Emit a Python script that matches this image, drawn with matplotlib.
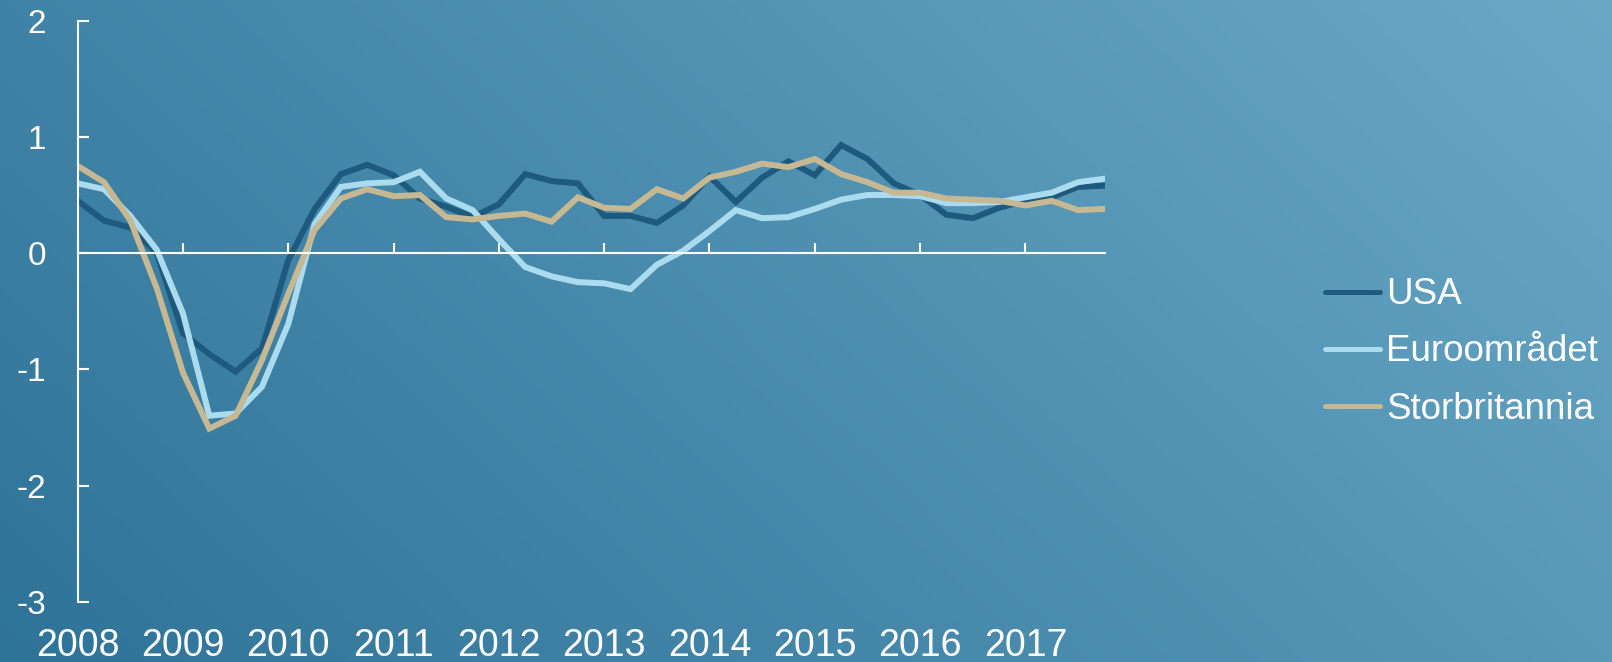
import numpy as np
import matplotlib
matplotlib.use("Agg")
import matplotlib.pyplot as plt

plt.rcParams['font.family'] = ['Liberation Sans', 'DejaVu Sans']
plt.rcParams['axes.unicode_minus'] = False

# kvartalsdata 2008K1 - 2017K4
quarters = np.arange(2008, 2018, 0.25)
usa = [0.45, 0.28, 0.22, 0.00, -0.69, -0.87, -1.02, -0.82, -0.06, 0.38,
       0.68, 0.76, 0.67, 0.47, 0.40, 0.31, 0.42, 0.68, 0.62, 0.60,
       0.32, 0.32, 0.26, 0.41, 0.66, 0.44, 0.65, 0.79, 0.67, 0.93,
       0.81, 0.60, 0.50, 0.33, 0.30, 0.39, 0.45, 0.48, 0.57, 0.58]
euro = [0.60, 0.55, 0.32, 0.03, -0.52, -1.40, -1.38, -1.15, -0.61, 0.25,
        0.57, 0.60, 0.61, 0.70, 0.47, 0.37, 0.12, -0.12, -0.20, -0.25,
        -0.26, -0.31, -0.10, 0.02, 0.19, 0.37, 0.30, 0.31, 0.38, 0.46,
        0.50, 0.50, 0.49, 0.43, 0.43, 0.44, 0.48, 0.52, 0.61, 0.64]
uk = [0.75, 0.61, 0.28, -0.30, -1.03, -1.51, -1.40, -0.92, -0.35, 0.20,
      0.47, 0.55, 0.49, 0.50, 0.31, 0.29, 0.32, 0.34, 0.27, 0.48,
      0.39, 0.38, 0.55, 0.47, 0.65, 0.70, 0.77, 0.74, 0.81, 0.68,
      0.61, 0.52, 0.52, 0.47, 0.46, 0.45, 0.41, 0.45, 0.37, 0.38]
years = list(range(2008, 2018))
series_names = ['USA', 'Euroområdet', 'Storbritannia']
series_colors = ['#1e5a7d', '#aadbef', '#c5b893']

fig = plt.figure(figsize=(16.12, 6.62), dpi=100)

# bakgrunn med gradient (mørk nede til venstre, lys oppe til høyre)
bg = fig.add_axes([0, 0, 1, 1], zorder=-10)
h, w = 662, 1612
xx, yy = np.meshgrid(np.linspace(0, 1, w), np.linspace(1, 0, h))
t = 0.7 * xx + 0.3 * yy
c0 = np.array([46, 115, 152]) / 255
c1 = np.array([106, 168, 198]) / 255
img = c0[None, None, :] + t[:, :, None] * (c1 - c0)[None, None, :]
bg.imshow(img, aspect='auto', extent=[0, 1, 0, 1])
bg.axis('off')

ax = fig.add_axes([77.7 / 1612, 1 - 601.7 / 662, (1105 - 77.7) / 1612, 581 / 662])
ax.set_facecolor('none')

for vals, name, col in zip([usa, euro, uk], series_names, series_colors):
    ax.plot(quarters, vals, color=col, lw=4.3, label=name, solid_joinstyle='miter')

ax.set_xlim(2008, 2017.756)
ax.set_ylim(-3, 2)
ax.set_yticks([-3, -2, -1, 0, 1, 2])
ax.set_xticks(years)

for s in ['top', 'right']:
    ax.spines[s].set_visible(False)
ax.spines['bottom'].set_position(('data', 0))
ax.spines['bottom'].set_color('white')
ax.spines['left'].set_color('white')
ax.spines['bottom'].set_linewidth(1.5)
ax.spines['left'].set_linewidth(1.5)
ax.tick_params(axis='x', direction='in', length=7.5, width=1.5, color='white', labelbottom=False)
ax.tick_params(axis='y', direction='in', length=8, width=1.5, color='white',
               labelcolor='white', labelsize=24, pad=23)

sec = ax.secondary_xaxis('bottom')
sec.set_xticks(years)
sec.set_xticklabels([str(y) for y in years])
sec.tick_params(length=0, pad=19, labelsize=27, labelcolor='white')
sec.spines['bottom'].set_visible(False)

leg = fig.legend(loc='center left', bbox_to_anchor=(1325 / 1612, 1 - 352 / 662),
                 frameon=False, fontsize=26.5, handlelength=1.5, handletextpad=0.17,
                 labelspacing=0.6, borderpad=0, borderaxespad=0)
for txt in leg.get_texts():
    txt.set_color('white')
for line in leg.get_lines():
    line.set_linewidth(3.6)
    line.set_solid_capstyle('round')

fig.savefig('out.png', dpi=100)
